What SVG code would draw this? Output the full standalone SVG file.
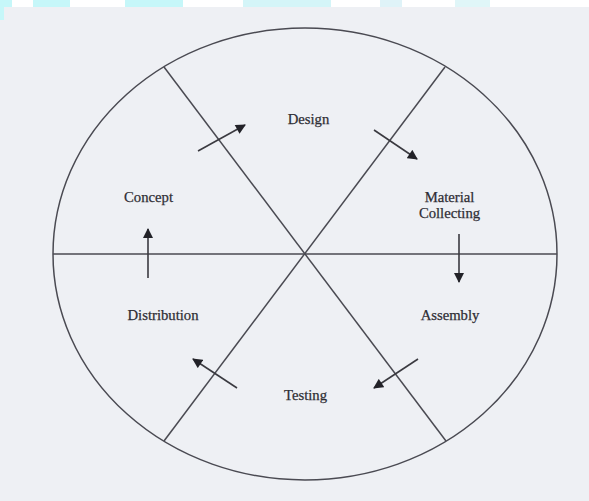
<svg xmlns="http://www.w3.org/2000/svg" width="589" height="501" viewBox="0 0 589 501">
<defs>
<style>
.ln{stroke:#4a4a52;stroke-width:1.5;fill:none}
.ar{stroke:#3a3a40;stroke-width:1.6;fill:none}
.lbl{font-family:"Liberation Serif","Times New Roman",serif;font-size:14.7px;fill:#2e2e34;stroke:#2e2e34;stroke-width:0.25;text-anchor:middle}
</style>
<marker id="ah" viewBox="0 0 10 10" refX="9" refY="5" markerWidth="11" markerHeight="10" markerUnits="userSpaceOnUse" orient="auto">
<path d="M0,0 L10,5 L0,10 Z" fill="#222228"/>
</marker>
</defs>
<rect x="0" y="0" width="589" height="501" fill="#eef0f4"/>
<rect x="0" y="0" width="589" height="7" fill="#ffffff"/>
<rect x="0" y="0" width="4" height="20" fill="#c6f7f9"/>
<rect x="0" y="0" width="12" height="7" fill="#c6f7f9"/>
<rect x="33" y="0" width="37" height="7" fill="#c6f7f9"/>
<rect x="125" y="0" width="58" height="7" fill="#c6f7f9"/>
<rect x="243" y="0" width="88" height="7" fill="#d4f5f8"/>
<rect x="380" y="0" width="22" height="7" fill="#dff3f8"/>
<rect x="455" y="0" width="35" height="7" fill="#e0f6f8"/>
<g id="wheel">
<ellipse class="ln" cx="305" cy="254" rx="252" ry="226"/>
</g>
<g id="connectors">
<line class="ln" x1="53" y1="254" x2="557" y2="254"/>
<line class="ln" x1="164" y1="67" x2="446" y2="441"/>
<line class="ln" x1="445" y1="67" x2="164" y2="441"/>
<line class="ar" x1="198" y1="151" x2="245" y2="125" marker-end="url(#ah)"/>
<line class="ar" x1="374" y1="130" x2="417" y2="159" marker-end="url(#ah)"/>
<line class="ar" x1="459" y1="234" x2="459" y2="282" marker-end="url(#ah)"/>
<line class="ar" x1="418" y1="359" x2="374" y2="388" marker-end="url(#ah)"/>
<line class="ar" x1="237" y1="388" x2="193" y2="359" marker-end="url(#ah)"/>
<line class="ar" x1="148" y1="278" x2="148" y2="229" marker-end="url(#ah)"/>
</g>
<g id="design"><text class="lbl" x="308.5" y="124">Design</text></g>
<g id="material"><text class="lbl" x="449.5" y="202">Material</text><text class="lbl" x="449.5" y="218">Collecting</text></g>
<g id="assembly"><text class="lbl" x="450" y="320">Assembly</text></g>
<g id="testing"><text class="lbl" x="305.5" y="400">Testing</text></g>
<g id="distribution"><text class="lbl" x="163" y="320">Distribution</text></g>
<g id="concept"><text class="lbl" x="148.5" y="202">Concept</text></g>
</svg>
